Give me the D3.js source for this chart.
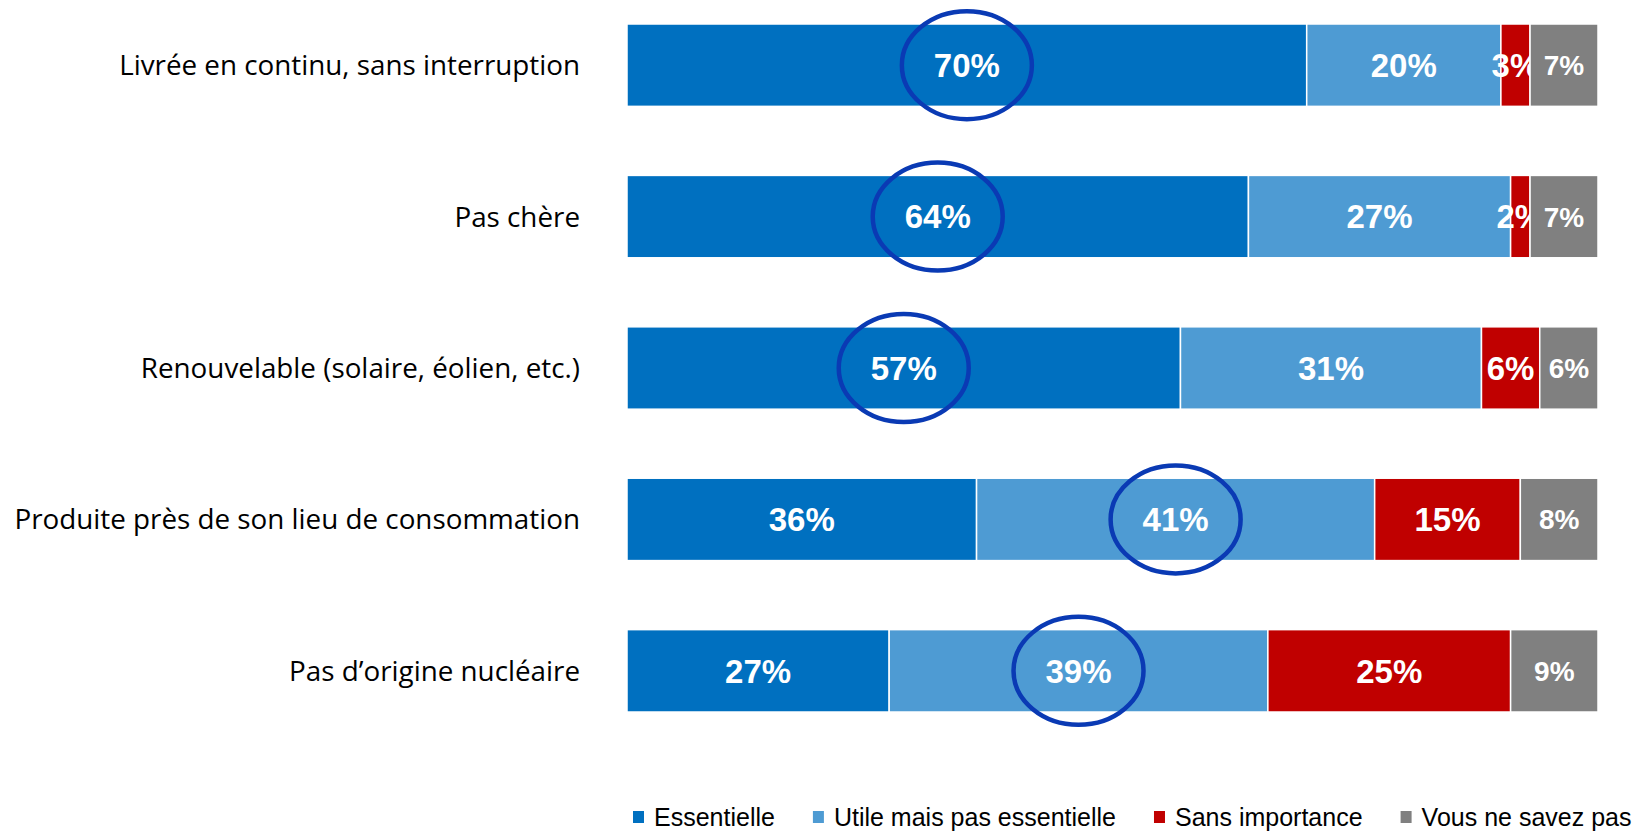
<!DOCTYPE html>
<html>
<head>
<meta charset="utf-8">
<script src="https://cdn.jsdelivr.net/npm/d3@7"></script>
<style>
  body { margin: 0; background: #fff; }
  svg { display: block; }
</style>
</head>
<body>
<div id="chart"></div>
<script>
// DATA
let categories = [
    "Livrée en continu, sans interruption",
    "Pas chère",
    "Renouvelable (solaire, éolien, etc.)",
    "Produite près de son lieu de consommation",
    "Pas d’origine nucléaire"
];
let seriesNames = ["Essentielle", "Utile mais pas essentielle", "Sans importance", "Vous ne savez pas"];
let essentielle = [70, 64, 57, 36, 27];
let utile = [20, 27, 31, 41, 39];
let sansImportance = [3, 2, 6, 15, 25];
let nsp = [7, 7, 6, 8, 9];
// which series is circled in each row
let highlighted = ["Essentielle", "Essentielle", "Essentielle", "Utile mais pas essentielle", "Utile mais pas essentielle"];

let colors = ["#0070C0", "#4E9BD3", "#C00000", "#808080"];

// table for the stack
let table = categories.map((c, i) => ({
    category: c,
    "Essentielle": essentielle[i],
    "Utile mais pas essentielle": utile[i],
    "Sans importance": sansImportance[i],
    "Vous ne savez pas": nsp[i]
}));

// CHART AREA
let W = 1636, H = 833;
let margin = {top: 24, right: 38, bottom: 121, left: 627};
let width = W - margin.left - margin.right,
    height = H - margin.top - margin.bottom;

let svg = d3.select("#chart").append("svg")
    .attr("width", W)
    .attr("height", H);

let g = svg.append("g")
    .attr("transform", "translate(" + margin.left + "," + margin.top + ")");

// SCALES
let x = d3.scaleLinear().domain([0, 100]).range([0, width]);
let y = d3.scaleBand().domain(categories).range([0, height]).paddingInner(0.456).paddingOuter(0);
let color = d3.scaleOrdinal().domain(seriesNames).range(colors);

let stacked = d3.stack().keys(seriesNames)(table);

// BARS
let layers = g.selectAll(".layer")
    .data(stacked)
    .enter().append("g")
    .attr("class", "layer")
    .attr("fill", d => color(d.key));

layers.selectAll("rect")
    .data(d => d.map(p => Object.assign(p, {key: d.key})))
    .enter().append("rect")
    .attr("x", d => x(d[0]))
    .attr("y", d => y(d.data.category))
    .attr("width", d => x(d[1]) - x(d[0]))
    .attr("height", y.bandwidth())
    .attr("stroke", "#fff")
    .attr("stroke-width", 1.5);

// VALUE LABELS
layers.selectAll("text")
    .data(d => d)
    .enter().append("text")
    .attr("x", d => x((d[0] + d[1]) / 2))
    .attr("y", d => y(d.data.category) + y.bandwidth() / 2)
    .attr("dy", "0.36em")
    .attr("text-anchor", "middle")
    .attr("fill", "#fff")
    .style("font-family", "'Liberation Sans', Arial, sans-serif")
    .style("font-weight", "bold")
    .style("font-size", d => d.key === "Vous ne savez pas" ? "28px" : "33px")
    .text(d => (d[1] - d[0]) + "%");

// HIGHLIGHT ELLIPSES
let circled = stacked.flatMap(layer => layer.filter((p, i) => highlighted[i] === layer.key));
g.selectAll(".highlight")
    .data(circled)
    .enter().append("ellipse")
    .attr("class", "highlight")
    .attr("cx", d => x((d[0] + d[1]) / 2))
    .attr("cy", d => y(d.data.category) + y.bandwidth() / 2)
    .attr("rx", 65)
    .attr("ry", 54)
    .attr("fill", "none")
    .attr("stroke", "#0A3AB4")
    .attr("stroke-width", 4.5);

// CATEGORY LABELS
g.selectAll(".cat")
    .data(categories)
    .enter().append("text")
    .attr("class", "cat")
    .attr("x", -47)
    .attr("y", d => y(d) + y.bandwidth() / 2)
    .attr("dy", "0.36em")
    .attr("text-anchor", "end")
    .attr("fill", "#000")
    .style("font-family", "'Open Sans', sans-serif")
    .style("font-size", "27.8px")
    .text(d => d);

// LEGEND
let legend = svg.append("g").attr("transform", "translate(" + (margin.left + 6) + "," + 817 + ")");
let lx = 0;
seriesNames.forEach((s, i) => {
    let item = legend.append("g").attr("transform", "translate(" + lx + ",0)");
    item.append("rect")
        .attr("x", 0).attr("y", -6)
        .attr("width", 11).attr("height", 12)
        .attr("fill", color(s));
    let t = item.append("text")
        .attr("x", 21)
        .attr("dy", "0.36em")
        .attr("fill", "#000")
        .style("font-family", "'Liberation Sans', Arial, sans-serif")
        .style("font-size", "25px")
        .text(s);
    lx += 21 + t.node().getComputedTextLength() + 38;
});
</script>
</body>
</html>
